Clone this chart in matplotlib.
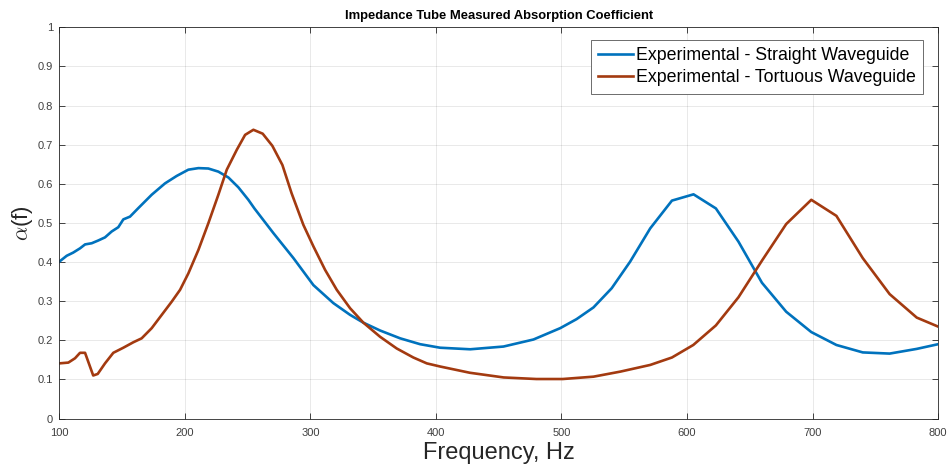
#!/usr/bin/env python3
"""Impedance tube absorption coefficient, straight vs tortuous waveguide."""
import matplotlib
matplotlib.use('Agg')
import matplotlib.pyplot as plt

plt.rcParams.update({
    'font.family': 'Liberation Sans',
    'mathtext.fontset': 'cm',
    'font.size': 8,
})

# straight waveguide
f_straight = [100, 105.9, 111, 116.5, 120.5, 125.8, 131, 136.4, 141.7, 147, 151,
              156.3, 163, 173.6, 184.2, 193.5, 202.8, 210.8, 218.7, 226.7, 234.7,
              242.6, 250.6, 255.4, 270.5, 286.5, 302.4, 318.3, 331.6, 342.2, 355.5,
              371.5, 387.4, 403.3, 427.3, 453.8, 477.7, 499, 512, 525.5, 540,
              554.7, 570.7, 588, 605.2, 623, 641, 659.7, 679, 699, 719, 740,
              761.4, 783, 800]
a_straight = [0.401, 0.416, 0.424, 0.435, 0.445, 0.448, 0.455, 0.463, 0.478, 0.489,
              0.509, 0.516, 0.538, 0.572, 0.601, 0.620, 0.636, 0.640, 0.639, 0.631,
              0.616, 0.591, 0.559, 0.537, 0.474, 0.410, 0.341, 0.295, 0.265, 0.245,
              0.225, 0.205, 0.190, 0.181, 0.177, 0.184, 0.202, 0.231, 0.254, 0.284,
              0.333, 0.401, 0.486, 0.557, 0.573, 0.537, 0.452, 0.347, 0.273, 0.221,
              0.188, 0.169, 0.166, 0.178, 0.190]

# tortuous waveguide
f_tortuous = [100, 107.2, 112.5, 116.5, 120.5, 127, 130.6, 136.4, 143, 151, 159,
              165.6, 173.6, 181.6, 189.6, 196.2, 202.8, 210.8, 218.7, 226.7, 233.4,
              241.4, 248, 254.6, 262, 269.7, 277.7, 285, 294.4, 302.4, 311.7, 321,
              331.6, 342.2, 355.5, 368.8, 382, 392.7, 403.3, 427, 454, 480, 501,
              525.5, 547, 570.7, 588, 605, 623, 641, 660, 679, 699, 719, 740,
              761.4, 783, 800]
a_tortuous = [0.141, 0.143, 0.154, 0.168, 0.168, 0.110, 0.114, 0.141, 0.168, 0.181,
              0.195, 0.205, 0.231, 0.265, 0.299, 0.329, 0.371, 0.431, 0.499, 0.572,
              0.636, 0.687, 0.725, 0.738, 0.728, 0.697, 0.648, 0.576, 0.495, 0.440,
              0.380, 0.329, 0.282, 0.245, 0.209, 0.179, 0.156, 0.141, 0.133, 0.117,
              0.105, 0.101, 0.101, 0.107, 0.120, 0.137, 0.156, 0.188, 0.238, 0.310,
              0.405, 0.497, 0.559, 0.518, 0.410, 0.318, 0.258, 0.235]

fig = plt.figure(figsize=(9.49, 4.74), dpi=100)
ax = fig.add_axes([0.0625, 0.117, 0.926, 0.8255])

ax.plot(f_straight, a_straight, color='#0072BD', lw=1.9,
        label='Experimental - Straight Waveguide')
ax.plot(f_tortuous, a_tortuous, color='#A33A10', lw=1.9,
        label='Experimental - Tortuous Waveguide')

ax.set_xlim(100, 800)
ax.set_ylim(0, 1)
ax.set_xticks(range(100, 801, 100))
ax.set_yticks([i / 10 for i in range(11)])
ax.set_yticklabels(['0'] + [f'{i / 10:g}' for i in range(1, 10)] + ['1'])
ax.grid(True, color='#000000', alpha=0.1, lw=0.6)
ax.tick_params(direction='in', top=True, right=True, length=4,
               colors='#262626', labelcolor='#404040', labelsize=8, width=0.6)
ax.tick_params(axis='x', pad=6.5)
ax.tick_params(axis='y', pad=4.5)
for s in ax.spines.values():
    s.set_color('#262626')
    s.set_linewidth(0.6)

ax.set_title('Impedance Tube Measured Absorption Coefficient',
             fontweight='bold', fontsize=9.4, pad=6)
ax.set_xlabel('Frequency, Hz', fontsize=17, color='#262626', labelpad=3)
ax.set_ylabel(r'$\alpha$(f)', fontsize=16, color='#262626', labelpad=2)

leg = ax.legend(loc='upper right', fontsize=12.8, handlelength=2.0,
                handletextpad=0.15, borderpad=0.4, labelspacing=0.3,
                borderaxespad=0, fancybox=False, framealpha=1,
                bbox_to_anchor=(0.983, 0.9675))
leg.get_frame().set_edgecolor('#555555')
leg.get_frame().set_linewidth(0.6)

fig.savefig('out.png', dpi=100)
